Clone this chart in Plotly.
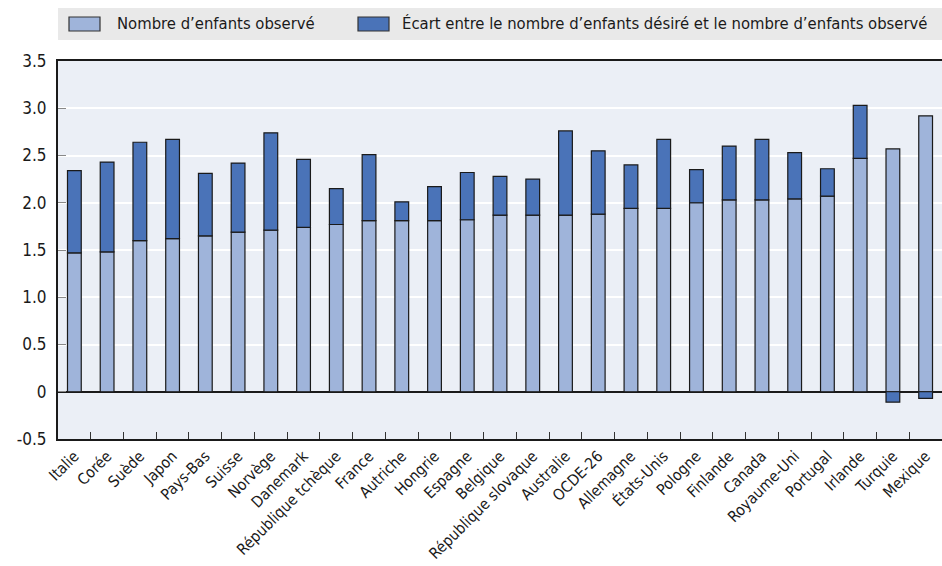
import plotly.graph_objects as go

countries = ["Italie", "Corée", "Suède", "Japon", "Pays-Bas", "Suisse", "Norvège", "Danemark",
             "République tchèque", "France", "Autriche", "Hongrie", "Espagne", "Belgique",
             "République slovaque", "Australie", "OCDE-26", "Allemagne", "États-Unis", "Pologne",
             "Finlande", "Canada", "Royaume-Uni", "Portugal", "Irlande", "Turquie", "Mexique"]
observed = [1.47, 1.48, 1.60, 1.62, 1.65, 1.69, 1.71, 1.74, 1.77, 1.81, 1.81, 1.81, 1.82, 1.87,
            1.87, 1.87, 1.88, 1.94, 1.94, 2.00, 2.03, 2.03, 2.04, 2.07, 2.47, 2.57, 2.92]
gap = [0.87, 0.95, 1.04, 1.05, 0.66, 0.73, 1.03, 0.72, 0.38, 0.70, 0.20, 0.36, 0.50, 0.41,
       0.38, 0.89, 0.67, 0.46, 0.73, 0.35, 0.57, 0.64, 0.49, 0.29, 0.56, -0.11, -0.07]
series_names = ["Nombre d’enfants observé",
                "Écart entre le nombre d’enfants désiré et le nombre d’enfants observé"]
series_colors = ["#9fb4da", "#4a73b8"]
yticks = [-0.5, 0, 0.5, 1.0, 1.5, 2.0, 2.5, 3.0, 3.5]
ytext = ["-0.5", "0", "0.5", "1.0", "1.5", "2.0", "2.5", "3.0", "3.5"]

FONT = "DejaVu Sans Condensed, Liberation Sans Narrow, sans-serif"

fig = go.Figure()
for vals, name, col in zip([observed, gap], series_names, series_colors):
    fig.add_trace(go.Bar(x=countries, y=vals, name=name,
                         marker=dict(color=col, line=dict(color="#1a1a1a", width=1.2)),
                         width=0.42, showlegend=False))

W, H = 942, 566
L, R, T, B = 58, 0, 61, 127
pw = W - L - R
ph = H - T - B


def px(x):
    return (x - L) / pw


def py(y):
    return 1 + (T - y) / ph


shapes = [dict(type="rect", xref="paper", yref="paper",
               x0=px(58), x1=px(942), y0=py(40), y1=py(8),
               fillcolor="#e9e9e9", line=dict(width=0), layer="below")]
annotations = []
sw_x = [69, 358]
tx_x = [115, 400]
for i in range(2):
    shapes.append(dict(type="rect", xref="paper", yref="paper",
                       x0=px(sw_x[i]), x1=px(sw_x[i] + 31), y0=py(31), y1=py(17),
                       fillcolor=series_colors[i], line=dict(color="#333333", width=1.2)))
    annotations.append(dict(xref="paper", yref="paper", x=px(tx_x[i]), y=py(24),
                            xanchor="left", yanchor="middle", showarrow=False,
                            text=series_names[i], font=dict(family=FONT, size=16.5, color="#1a1a1a")))

fig.update_layout(
    width=W, height=H,
    barmode="relative",
    margin=dict(l=L, r=R, t=T, b=B),
    paper_bgcolor="white",
    plot_bgcolor="#ebeff6",
    font=dict(family=FONT, size=16, color="#1a1a1a"),
    showlegend=False,
    shapes=shapes,
    annotations=annotations,
    xaxis=dict(type="category", tickson="boundaries", ticks="inside", ticklen=7,
               tickcolor="#333333", tickangle=-45, showline=True, linecolor="#1a1a1a",
               linewidth=2, mirror=True, showgrid=False, automargin=False,
               tickfont=dict(family=FONT, size=15.5)),
    yaxis=dict(range=[-0.5, 3.5], tickvals=yticks, ticktext=ytext, ticks="inside",
               ticklen=8, tickcolor="#888888", showline=True, linecolor="#1a1a1a",
               linewidth=2, mirror=True, gridcolor="white", gridwidth=2,
               zeroline=True, zerolinecolor="#1a1a1a", zerolinewidth=1.5,
               ticklabelstandoff=6, automargin=False,
               tickfont=dict(family=FONT, size=17)),
)

fig.write_html("out.html", config={"displayModeBar": False},
               post_script="document.body.style.margin='0';document.body.style.overflow='hidden';")
